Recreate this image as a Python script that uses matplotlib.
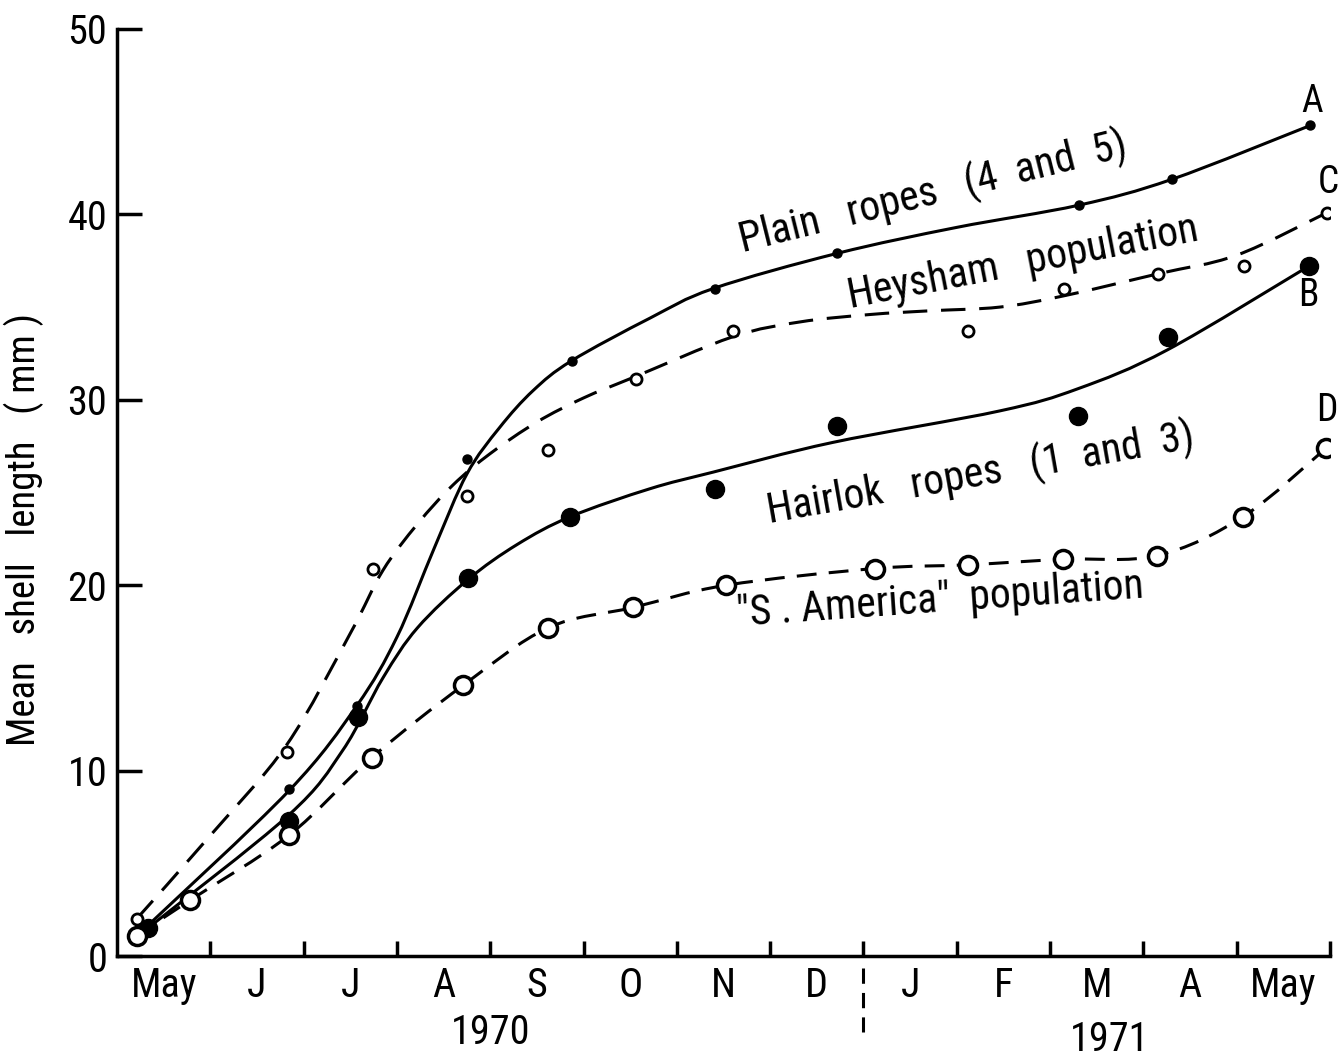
import numpy as np
import matplotlib
matplotlib.use('Agg')
import matplotlib.pyplot as plt
import matplotlib.transforms as mtransforms
from matplotlib.path import Path
from matplotlib.patches import PathPatch

plt.rcParams['font.family'] = ['Roboto Condensed', 'DejaVu Sans Condensed', 'Liberation Sans Narrow',
                               'Roboto', 'DejaVu Sans']

# months counted from 1 May 1970
months = ['May', 'J', 'J', 'A', 'S', 'O', 'N', 'D', 'J', 'F', 'M', 'A', 'May']

# A - plain ropes (4 and 5)
plain_x = [0.33, 1.84, 2.57, 3.75, 4.88, 6.41, 7.72, 10.31, 11.31, 12.79]
plain_y = [1.5, 9.0, 13.5, 26.8, 32.1, 36.0, 37.9, 40.5, 41.9, 44.8]
plain_fit_x = [0.3, 1.84, 2.57, 3.0, 3.4, 3.75, 4.1, 4.46, 4.87, 5.71, 6.39, 7.72, 9.0, 10.31, 11.31, 12.79]
plain_fit_y = [1.5, 8.9, 13.5, 17.2, 22.0, 26.0, 28.5, 30.5, 32.1, 34.4, 36.0, 37.9, 39.3, 40.5, 41.9, 44.8]

# C - Heysham population
hey_x = [0.21, 1.82, 2.74, 3.75, 4.62, 5.56, 6.6, 9.12, 10.15, 11.16, 12.08, 12.97]
hey_y = [2.0, 11.0, 20.9, 24.8, 27.3, 31.1, 33.7, 33.7, 36.0, 36.8, 37.2, 40.1]
hey_fit_x = [0.21, 1.0, 1.82, 2.5, 2.85, 3.22, 3.6, 4.0, 4.5, 5.0, 5.53, 6.6, 7.32, 8.07, 8.71, 9.46, 10.14, 11.16, 12.0, 12.97]
hey_fit_y = [2.0, 6.5, 11.4, 17.4, 20.8, 23.3, 25.4, 27.1, 28.8, 30.1, 31.2, 33.4, 34.2, 34.6, 34.8, 35.0, 35.6, 36.8, 37.8, 40.1]

# B - Hairlok ropes (1 and 3)
hair_x = [0.33, 1.84, 2.58, 3.76, 4.86, 6.41, 7.72, 10.3, 11.26, 12.77]
hair_y = [1.5, 7.3, 12.9, 20.4, 23.7, 25.2, 28.6, 29.1, 33.4, 37.2]
hair_fit_x = [0.33, 1.84, 2.42, 2.85, 3.22, 3.76, 4.29, 4.86, 5.71, 6.39, 7.67, 9.46, 10.3, 11.26, 12.77]
hair_fit_y = [1.5, 7.6, 11.1, 15.0, 17.7, 20.3, 22.2, 23.7, 25.2, 26.1, 27.7, 29.4, 30.6, 32.7, 37.2]

# D - "S. America" population
sam_x = [0.21, 0.78, 1.84, 2.73, 3.71, 4.62, 5.53, 6.53, 8.12, 9.12, 10.14, 11.15, 12.07, 12.96]
sam_y = [1.1, 3.0, 6.5, 10.7, 14.6, 17.7, 18.8, 20.0, 20.9, 21.1, 21.4, 21.6, 23.7, 27.4]


def smooth_path(xs, ys):
    # catmull-rom through the points, drawn as bezier segments
    pts = np.column_stack([xs, ys])
    n = len(pts)
    verts = [pts[0]]
    codes = [Path.MOVETO]
    for i in range(n - 1):
        p0 = pts[i - 1] if i > 0 else pts[i]
        p1 = pts[i]
        p2 = pts[i + 1]
        p3 = pts[i + 2] if i + 2 < n else pts[i + 1]
        verts += [p1 + (p2 - p0) / 6.0, p2 - (p3 - p1) / 6.0, p2]
        codes += [Path.CURVE4] * 3
    return Path(verts, codes)


fig = plt.figure(figsize=(13.41, 10.58), dpi=100)
ax = fig.add_axes([117/1341, 102/1058, 1213/1341, 927/1058])

ax.add_patch(PathPatch(smooth_path(plain_fit_x, plain_fit_y), fill=False, lw=2.2, color='k'))
ax.add_patch(PathPatch(smooth_path(hair_fit_x, hair_fit_y), fill=False, lw=2.2, color='k'))
ax.add_patch(PathPatch(smooth_path(hey_fit_x, hey_fit_y), fill=False, lw=2.2, color='k',
                       linestyle=(0, (8, 4.5))))
ax.add_patch(PathPatch(smooth_path(sam_x, sam_y), fill=False, lw=2.2, color='k',
                       linestyle=(0, (6.5, 4))))

ax.plot(plain_x, plain_y, 'o', color='k', ms=6.5, zorder=5)
ax.plot(hair_x, hair_y, 'o', color='k', ms=13, zorder=5)
ax.plot(hey_x, hey_y, 'o', mfc='white', mec='k', mew=2, ms=8, zorder=5)
ax.plot(sam_x, sam_y, 'o', mfc='white', mec='k', mew=2.5, ms=13, zorder=5)

ax.set_xlim(0, 13)
ax.set_ylim(0, 50)
for s in ['top', 'right']:
    ax.spines[s].set_visible(False)
for s in ['left', 'bottom']:
    ax.spines[s].set_linewidth(2.5)

ax.set_yticks(range(0, 51, 10))
ax.tick_params(axis='y', direction='in', length=18, width=2.5, labelsize=29, pad=7)
ax.set_xticks(range(1, 14))
ax.set_xticklabels([])
ax.tick_params(axis='x', which='major', direction='in', length=11, width=2.5)
ax.set_xticks(np.arange(13) + 0.5, minor=True)
ax.set_xticklabels(months, minor=True)
ax.tick_params(axis='x', which='minor', length=0, labelsize=29, pad=7)

ax.set_ylabel('Mean   shell   length   ( mm )', fontsize=28)
ax.yaxis.set_label_coords(-0.06, 0.46)

trans = mtransforms.blended_transform_factory(ax.transData, ax.transAxes)
ax.plot([8, 8], [-0.013, -0.082], transform=trans, color='k', lw=2.2,
        linestyle=(0, (5, 3)), clip_on=False)
ax.text(4.0, -0.083, '1970', transform=trans, ha='center', va='center', fontsize=29)
ax.text(10.64, -0.09, '1971', transform=trans, ha='center', va='center', fontsize=29)

ax.text(12.81, 46.1, 'A', ha='center', va='center', fontsize=27)
ax.text(12.98, 41.7, 'C', ha='center', va='center', fontsize=27)
ax.text(12.77, 35.6, 'B', ha='center', va='center', fontsize=27)
ax.text(12.97, 29.4, 'D', ha='center', va='center', fontsize=27)

ax.text(8.74, 41.2, 'Plain   ropes   (4  and  5)', rotation=14, rotation_mode='anchor',
        ha='center', va='center', fontsize=30)
ax.text(9.71, 37.4, 'Heysham   population', rotation=11, rotation_mode='anchor',
        ha='center', va='center', fontsize=30)
ax.text(9.25, 26.0, 'Hairlok   ropes   (1  and  3)', rotation=10, rotation_mode='anchor',
        ha='center', va='center', fontsize=30)
ax.text(8.82, 19.2, '"S . America"  population', rotation=4, rotation_mode='anchor',
        ha='center', va='center', fontsize=30)

plt.savefig('out.png', dpi=100)
